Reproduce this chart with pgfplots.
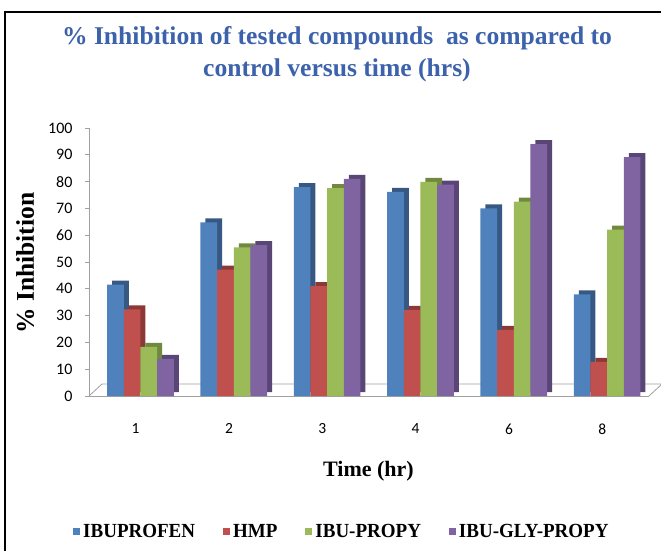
\documentclass[border=0pt]{standalone}
\usepackage{pgfplots}
\pgfplotsset{compat=1.18}
\usepackage{pgfplotstable}
\usepackage{fontspec}
\setmainfont{Liberation Serif}
\newfontfamily\tickfont{Carlito}
\definecolor{cBlue}{RGB}{79,129,189}
\definecolor{cRed}{RGB}{192,80,77}
\definecolor{cGreen}{RGB}{155,187,89}
\definecolor{cPurple}{RGB}{128,100,162}
\definecolor{dBlue}{RGB}{54,88,130}
\definecolor{dRed}{RGB}{140,56,54}
\definecolor{dGreen}{RGB}{112,137,62}
\definecolor{dPurple}{RGB}{90,70,118}
\definecolor{titleblue}{RGB}{60,98,172}
\definecolor{axgray}{RGB}{160,160,160}

\pgfplotstableread{
x IBU HMP PRO GLY
0 41.6 32.3 18.3 13.9
1 64.8 47.2 55.5 56.3
2 77.9 41.0 77.6 81.0
3 76.2 32.1 79.9 78.9
4 70.0 24.7 72.5 94.0
5 37.9 12.7 62.1 89.1
}\datatable

\begin{document}
\begin{tikzpicture}
\useasboundingbox (0pt,0pt) rectangle (661pt,550pt);
\draw[line width=2pt] (5pt,-5pt) -- (5pt,538pt) -- (670pt,538pt);
\node[font=\fontsize{25.6}{32}\selectfont\bfseries, text=titleblue, align=center] at (337pt,496pt)
  {\% Inhibition of tested compounds\ \ as compared to\\control versus time (hrs)};
\begin{axis}[
  at={(89pt,154pt)}, anchor=south west,
  scale only axis, width=560pt, height=268pt,
  xmin=-0.5, xmax=5.5, ymin=0, ymax=100,
  clip=false,
  /pgf/number format/assume math mode=true,
  axis x line*=bottom, axis y line*=left,
  axis line style={axgray, line width=0.8pt},
  tick align=outside,
  ytick={0,10,...,100},
  ytick style={axgray, line width=0.8pt},
  major tick length=4pt,
  xtick={0,...,5}, xticklabels={1,2,3,4,6,8},
  xtick style={draw=none},
  extra x ticks={-0.5,0.5,1.5,2.5,3.5,4.5,5.5},
  extra x tick labels={},
  extra x tick style={tick style={axgray, line width=0.8pt, draw=axgray}, major tick length=5pt},
  yticklabel style={font=\tickfont\fontsize{16}{16}\selectfont, text=black, xshift=-9pt},
  xticklabel style={font=\tickfont\fontsize{15.5}{16}\selectfont, text=black, yshift=-20pt},
  xlabel={Time (hr)},
  xlabel style={font=\bfseries\fontsize{22}{24}\selectfont, at={(axis description cs:0.499,-0.28)}, anchor=center},
  ylabel={\% Inhibition},
  ylabel style={font=\bfseries\fontsize{25.5}{26}\selectfont, at={(axis description cs:-0.114,0.496)}, anchor=center},
  bar width=16.7pt,
  legend columns=4,
  legend style={draw=none, fill=none, at={(axis description cs:0.4525,-0.507)}, anchor=center,
    font=\bfseries\fontsize{20}{20}\selectfont,
    nodes={inner xsep=3pt},
    /tikz/every even column/.append style={column sep=25pt}},
  legend image code/.code={\draw[#1, draw=none] (0pt,-3.5pt) rectangle (7pt,3.5pt);},
]
% floor
\draw[axgray, line width=0.8pt] (rel axis cs:0,0) -- ([xshift=13pt,yshift=12pt]rel axis cs:0,0)
  -- ([xshift=13pt,yshift=12pt]rel axis cs:1,0) -- (rel axis cs:1,0);
\addplot[ybar, fill=dBlue, draw=none, bar shift=-15.2pt, yshift=4pt, forget plot] table[x=x,y=IBU]{\datatable};
\addplot[ybar, fill=cBlue, draw=none, bar shift=-20.2pt] table[x=x,y=IBU]{\datatable};
\addplot[ybar, fill=dRed, draw=none, bar shift=1.45pt, yshift=4pt, forget plot] table[x=x,y=HMP]{\datatable};
\addplot[ybar, fill=cRed, draw=none, bar shift=-3.55pt] table[x=x,y=HMP]{\datatable};
\addplot[ybar, fill=dGreen, draw=none, bar shift=18.15pt, yshift=4pt, forget plot] table[x=x,y=PRO]{\datatable};
\addplot[ybar, fill=cGreen, draw=none, bar shift=13.15pt] table[x=x,y=PRO]{\datatable};
\addplot[ybar, fill=dPurple, draw=none, bar shift=34.8pt, yshift=4pt, forget plot] table[x=x,y=GLY]{\datatable};
\addplot[ybar, fill=cPurple, draw=none, bar shift=29.8pt] table[x=x,y=GLY]{\datatable};
\legend{\scalebox{0.95}[1]{IBUPROFEN},\scalebox{0.95}[1]{HMP}\hspace{11pt},\scalebox{0.95}[1]{IBU-PROPY},\scalebox{0.95}[1]{IBU-GLY-PROPY}}
\end{axis}
\end{tikzpicture}
\end{document}
